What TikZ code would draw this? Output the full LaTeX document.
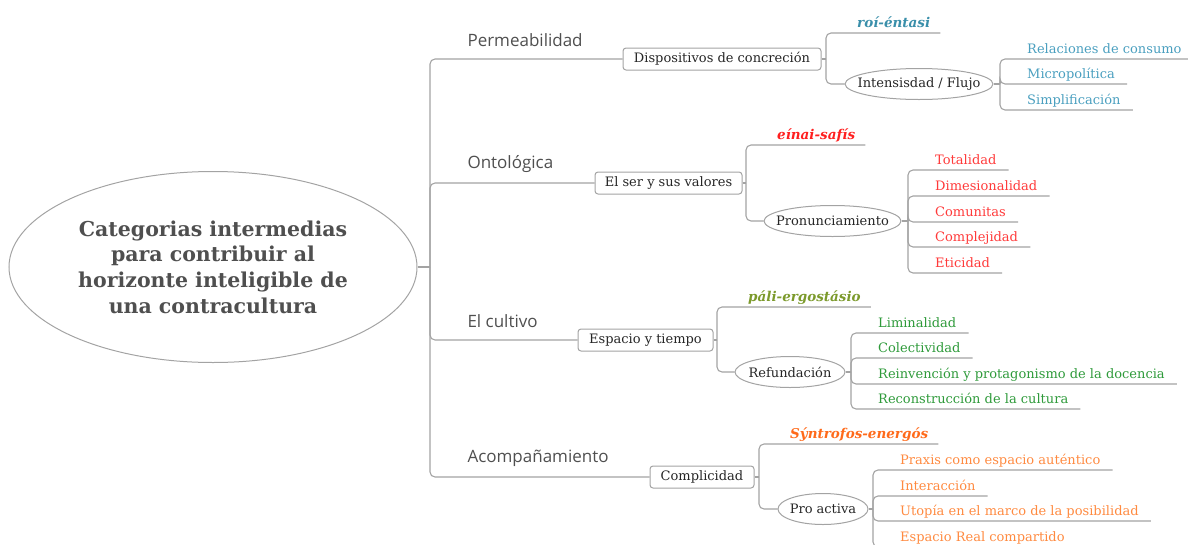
\documentclass[tikz,border=0pt]{standalone}
\usepackage{fontspec}
\setmainfont{DejaVu Serif}
\newfontfamily\labfont{Open Sans}
\usetikzlibrary{positioning,shapes.geometric}
\definecolor{cLine}{HTML}{A3A3A3}
\definecolor{cText}{HTML}{4F4F4F}
\definecolor{cTeal}{HTML}{3A8FAA}
\definecolor{cBlue}{HTML}{4A9FBF}
\definecolor{cRed}{HTML}{FF2020}
\definecolor{cRedL}{HTML}{FF3A3A}
\definecolor{cOlive}{HTML}{7C9A2C}
\definecolor{cGreen}{HTML}{2E9A3A}
\definecolor{cOrange}{HTML}{FF6A1A}
\definecolor{cOrangeL}{HTML}{FF8A40}

\begin{document}
\begin{tikzpicture}[x=1pt,y=-1pt,
  root/.style={ellipse,draw=cLine,line width=1pt,minimum width=408,minimum height=191,inner sep=0pt,align=center,text=cText,font=\fontsize{20.5}{25.7}\selectfont\bfseries},
  lab/.style={anchor=west,text=cText,font=\labfont\fontsize{17}{20}\selectfont},
  box/.style={draw=cLine,line width=1pt,fill=white,rounded corners=3pt,minimum height=22,inner xsep=0pt,text=black!85,font=\fontsize{13}{15}\selectfont},
  oval/.style={ellipse,draw=cLine,line width=1pt,fill=white,minimum height=31,inner xsep=-11pt,inner ysep=0pt,text=black!85,font=\fontsize{13}{15}\selectfont},
  leaf/.style={anchor=south west,inner xsep=12pt,inner ysep=4pt,text height=1.6ex,text depth=.3ex,font=\fontsize{13}{15}\selectfont},
  tag/.style={leaf,inner xsep=10pt,font=\fontsize{13.5}{15}\selectfont\bfseries\itshape},
  link/.style={draw=cLine,line width=1.1pt,rounded corners=5pt}]
  \useasboundingbox (0,0) rectangle (1188,544);
  \node[root] (c) at (213,267) {Categorias intermedias\\para contribuir al\\horizonte inteligible de\\una contracultura};
  \coordinate (t) at (430,267);
  \draw[link] (c.east) -- (t);
  % main branches
  \node[lab] (n1) at (464,40) {Permeabilidad};
  \node[lab] (n2) at (464,164) {Ontológica};
  \node[lab] (n3) at (464,321) {El cultivo};
  \node[lab] (n4) at (464,458) {Acompañamiento};
  \node[box,minimum width=198] (b1) at (722,59) {Dispositivos de concreción};
  \node[box,minimum width=147] (b2) at (668.5,183) {El ser y sus valores};
  \node[box,minimum width=135] (b3) at (645.5,340) {Espacio y tiempo};
  \node[box,minimum width=104] (b4) at (702,477) {Complicidad};
  \foreach \b in {b1,b2,b3,b4} \draw[link] (t) |- (\b.west);
  % Permeabilidad
  \coordinate (s1) at (826,59);
  \node[tag,text=cTeal] (g1) at (847,33) {roí-éntasi};
  \node[oval,minimum width=148] (o1) at (919,84) {Intensisdad / Flujo};
  \coordinate (p1) at (1000,84);
  \node[leaf,text=cBlue] (l11) at (1015,59) {Relaciones de consumo};
  \node[leaf,text=cBlue] (l12) at (1015,84) {Micropolítica};
  \node[leaf,text=cBlue] (l13) at (1015,110) {Simplificación};
  \draw[link] (b1.east) -- (s1);
  \draw[link] (s1) |- (g1.south west) -- (g1.south east);
  \draw[link] (s1) |- (o1.west);
  \draw[link] (o1.east) -- (p1);
  \foreach \l in {l11,l12,l13} \draw[link] (p1) |- (\l.south west) -- (\l.south east);
  % Ontologica
  \coordinate (s2) at (746,183);
  \node[tag,text=cRed] (g2) at (767,145) {eínai-safís};
  \node[oval,minimum width=137] (o2) at (832.5,221) {Pronunciamiento};
  \coordinate (p2) at (908,221);
  \node[leaf,text=cRedL] (l21) at (923,170) {Totalidad};
  \node[leaf,text=cRedL] (l22) at (923,196) {Dimesionalidad};
  \node[leaf,text=cRedL] (l23) at (923,222) {Comunitas};
  \node[leaf,text=cRedL] (l24) at (923,247) {Complejidad};
  \node[leaf,text=cRedL] (l25) at (923,273) {Eticidad};
  \draw[link] (b2.east) -- (s2);
  \draw[link] (s2) |- (g2.south west) -- (g2.south east);
  \draw[link] (s2) |- (o2.west);
  \draw[link] (o2.east) -- (p2);
  \foreach \l in {l21,l22,l23,l24,l25} \draw[link] (p2) |- (\l.south west) -- (\l.south east);
  % El cultivo
  \coordinate (s3) at (717,340);
  \node[tag,text=cOlive] (g3) at (738,307) {páli-ergostásio};
  \node[oval,minimum width=110] (o3) at (790,372) {Refundación};
  \coordinate (p3) at (851,372);
  \node[leaf,text=cGreen] (l31) at (866,333) {Liminalidad};
  \node[leaf,text=cGreen] (l32) at (866,358) {Colectividad};
  \node[leaf,text=cGreen] (l33) at (866,384) {Reinvención y protagonismo de la docencia};
  \node[leaf,text=cGreen] (l34) at (866,409) {Reconstrucción de la cultura};
  \draw[link] (b3.east) -- (s3);
  \draw[link] (s3) |- (g3.south west) -- (g3.south east);
  \draw[link] (s3) |- (o3.west);
  \draw[link] (o3.east) -- (p3);
  \foreach \l in {l31,l32,l33,l34} \draw[link] (p3) |- (\l.south west) -- (\l.south east);
  % Acompanamiento
  \coordinate (s4) at (759,477);
  \node[tag,text=cOrange] (g4) at (780,444) {Sýntrofos-energós};
  \node[oval,minimum width=90] (o4) at (823,509) {Pro activa};
  \coordinate (p4) at (873,509);
  \node[leaf,text=cOrangeL] (l41) at (888,470) {Praxis como espacio auténtico};
  \node[leaf,text=cOrangeL] (l42) at (888,496) {Interacción};
  \node[leaf,text=cOrangeL] (l43) at (888,521) {Utopía en el marco de la posibilidad};
  \node[leaf,text=cOrangeL] (l44) at (888,547) {Espacio Real compartido};
  \draw[link] (b4.east) -- (s4);
  \draw[link] (s4) |- (g4.south west) -- (g4.south east);
  \draw[link] (s4) |- (o4.west);
  \draw[link] (o4.east) -- (p4);
  \foreach \l in {l41,l42,l43,l44} \draw[link] (p4) |- (\l.south west) -- (\l.south east);
\end{tikzpicture}
\end{document}
